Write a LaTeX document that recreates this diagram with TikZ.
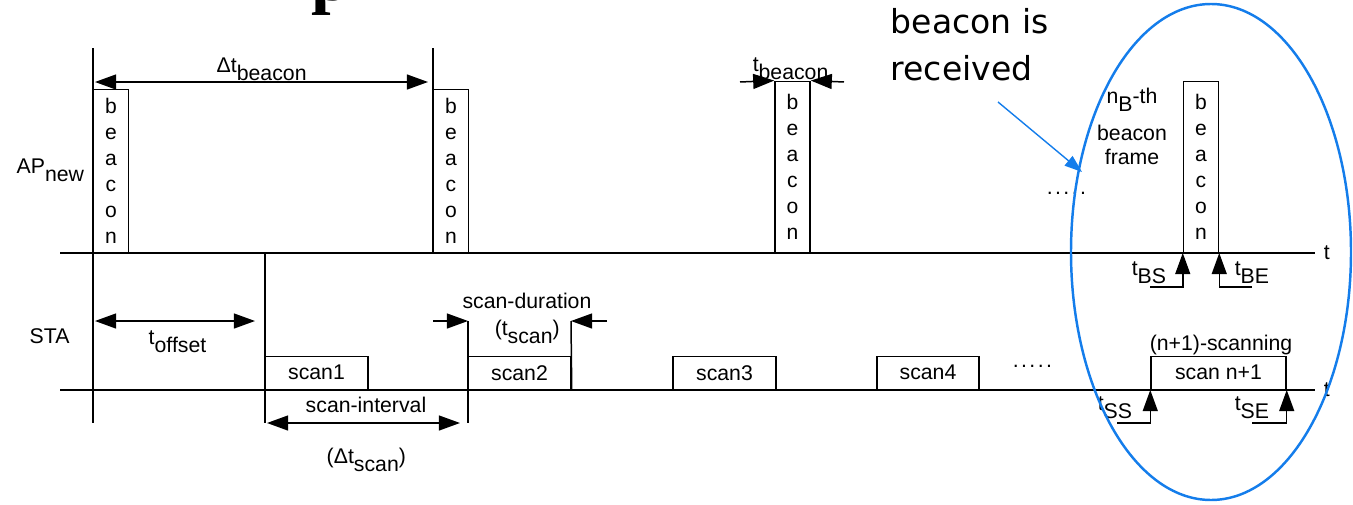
\documentclass[tikz,border=0pt]{standalone}
\usepackage{fontspec}
\setmainfont{Liberation Sans}
\newfontfamily\calloutfont{DejaVu Sans}
\newfontfamily\titlefont{Liberation Serif}
\usetikzlibrary{arrows.meta}
\definecolor{calloutblue}{RGB}{20,125,235}
\newcommand{\dn}[1]{\raisebox{-0.4em}{#1}}
\newcommand{\gap}{.\kern1.4pt.\kern1.4pt.\kern1.4pt.\kern1.4pt.}
\tikzset{
  tip/.style={-{Triangle[length=12pt,width=8.5pt]}},
  twotip/.style={{Triangle[length=12pt,width=8.5pt]}-{Triangle[length=12pt,width=8.5pt]}},
  beaconbox/.style={draw, minimum width=0.7cm, minimum height=#1, anchor=south, align=center, font=\fontsize{12}{14.8}\selectfont},
  scanbox/.style={draw, minimum width=#1, minimum height=0.66cm, anchor=south},
}
\begin{document}
\begin{tikzpicture}[x=0.02cm, y=0.02cm, line width=0.85pt, font=\fontsize{12.1}{14}\selectfont]
\tikzstyle{every node}+=[inner sep=0pt]
\useasboundingbox (0,0) rectangle (1353,-504);
% title left over from the slide
\node [anchor=base west, font=\titlefont\bfseries\fontsize{40}{40}\selectfont] (title) at (311,0) {p};
% time axes
\coordinate (apL) at (60,-253);
\coordinate (apR) at (1315,-253);
\coordinate (staL) at (60,-390);
\coordinate (staR) at (1315,-390);
\draw (apL) -- (apR);
\draw (staL) -- (staR);
\node [anchor=west] (apt) at (1323,-253) {t};
\node [anchor=west] (stat) at (1323,-390) {t};
\node [anchor=base west] (apname) at (16,-173) {AP\dn{new}};
\node [anchor=base west] (staname) at (29,-343) {STA};
% beacon frames
\node [beaconbox=3.26cm] (bcn1) at (111,-253) {b\\e\\a\\c\\o\\n};
\node [beaconbox=3.26cm] (bcn2) at (451,-253) {b\\e\\a\\c\\o\\n};
\node [beaconbox=3.42cm] (bcn3) at (792.5,-253) {b\\e\\a\\c\\o\\n};
\node [beaconbox=3.42cm] (bcn4) at (1201,-253) {b\\e\\a\\c\\o\\n};
% scans
\node [scanbox=2.06cm] (scan1) at (316.5,-390) {scan1};
\node [scanbox=2.06cm] (scan2) at (519.5,-390) {scan2};
\node [scanbox=2.06cm] (scan3) at (724.5,-390) {scan3};
\node [scanbox=2.04cm] (scan4) at (928,-390) {scan4};
\node [scanbox=2.7cm] (scann) at (1218.5,-390) {scan n+1};
% marker lines
\coordinate (m0top) at (93,-48);
\coordinate (m0bot) at (93,-423);
\coordinate (m1top) at (433,-48);
\coordinate (m1bot) at (433,-253);
\coordinate (s1top) at (265,-253);
\coordinate (s1bot) at (265,-423);
\coordinate (s2top) at (468,-321);
\coordinate (s2bot) at (468,-423);
\coordinate (s2end) at (571,-321);
\draw (m0top) -- (m0bot);
\draw (m1top) -- (m1bot);
\draw (s1top) -- (s1bot);
\draw (s2top) -- (s2bot);
\draw (s2end) -- (scan2.south east);
% beacon interval and duration
\coordinate (dbL) at (95,-82);
\coordinate (dbR) at (428,-82);
\draw [twotip] (dbL) -- (dbR);
\node [anchor=base west] (dtbeacon) at (216,-72) {Δt\dn{beacon}};
\coordinate (tbL) at (740,-82);
\coordinate (tbR) at (844,-82);
\draw [tip] (tbL) -- (bcn3.north west);
\draw [tip] (tbR) -- (bcn3.north east);
\node [anchor=base west] (tbeacon) at (752,-71) {t\dn{beacon}};
% offset, interval, duration
\coordinate (ofL) at (95,-321);
\coordinate (ofR) at (255,-321);
\draw [twotip] (ofL) -- (ofR);
\node [anchor=base west] (toffset) at (148,-344) {t\dn{offset}};
\coordinate (siL) at (267,-423);
\coordinate (siR) at (460,-423);
\draw [twotip] (siL) -- (siR);
\node [anchor=base] (sint) at (366,-412) {scan-interval};
\node [anchor=base west] (dtscan) at (326,-463) {(Δt\dn{scan})};
\coordinate (sdL) at (433,-321);
\coordinate (sdR) at (607,-321);
\draw [tip] (sdL) -- (s2top);
\draw [tip] (sdR) -- (s2end);
\node [anchor=base] (sdur) at (527,-308) {scan-duration};
\node [anchor=base west] (tscan) at (494,-335) {(t\dn{scan})};
% dots
\node [anchor=base west] (dotsap) at (1046,-194) {\gap};
\node [anchor=base west] (dotssta) at (1012,-367) {\gap};
% received beacon and last scan
\node [anchor=north, align=center] (nbth) at (1132,-87) {n\dn{B}-th\\[7pt]beacon\\frame};
\node [anchor=base] (nscan) at (1221,-350) {(n+1)-scanning};
\coordinate (bsL) at (1150,-287);
\coordinate (beR) at (1252,-287);
\coordinate (ssL) at (1117,-423);
\coordinate (seL) at (1252,-423);
\draw [tip] (bsL) -- (bcn4.south west |- bsL) -- (bcn4.south west);
\draw [tip] (beR) -- (bcn4.south east |- beR) -- (bcn4.south east);
\draw [tip] (ssL) -- (scann.south west |- ssL) -- (scann.south west);
\draw [tip] (seL) -- (scann.south east |- seL) -- (scann.south east);
\node [anchor=base west] (tbs) at (1131,-275) {t\dn{BS}};
\node [anchor=base west] (tbe) at (1234,-275) {t\dn{BE}};
\node [anchor=base west] (tss) at (1097,-410) {t\dn{SS}};
\node [anchor=base west] (tse) at (1234,-410) {t\dn{SE}};
% callout
\node [anchor=north west, align=left, font=\calloutfont\fontsize{18.8}{26.7}\selectfont] (note) at (890,-8) {beacon is\\received};
\coordinate (noteA) at (998,-102);
\coordinate (noteB) at (1082,-172);
\draw [calloutblue, line width=1.4pt] (1211,-252) ellipse (140 and 248);
\draw [calloutblue, line width=0.8pt, -{Triangle[length=10pt,width=7pt]}] (noteA) -- (noteB);
\end{tikzpicture}
\end{document}
